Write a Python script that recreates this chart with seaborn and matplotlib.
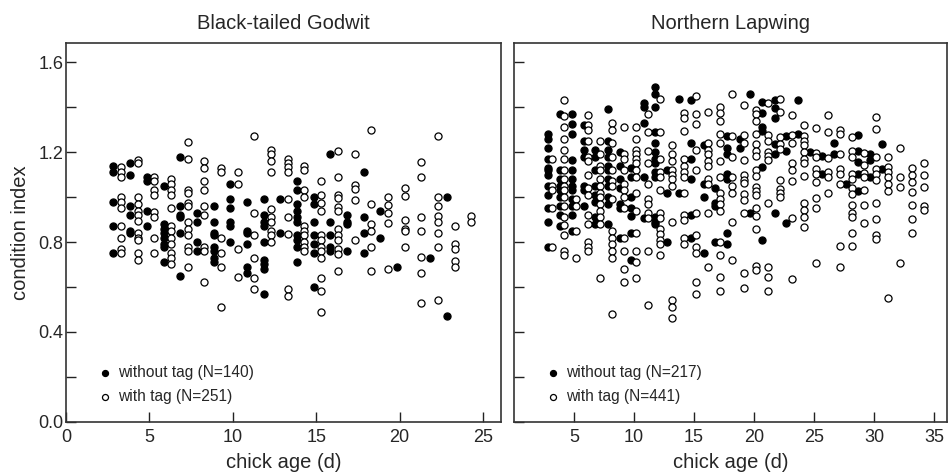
import pandas as pd
import seaborn as sns
import matplotlib.pyplot as plt
import numpy as np

# Black-tailed Godwit, chicks without tag (column position = chick age, values = condition index)
godwit_notag_age = [2.8, 3.85, 4.85, 5.85, 6.85, 7.85, 8.85, 9.85, 10.85, 11.85,
                    12.85, 13.85, 14.85, 15.85, 16.85, 17.85, 18.85, 19.85, 21.85, 22.85]
godwit_notag_ci = [
    [1.14, 1.11, 0.98, 0.87, 0.75],
    [1.15, 1.10, 0.96, 0.92, 0.85, 0.84],
    [1.09, 1.07, 0.94, 0.87],
    [1.05, 0.88, 0.86, 0.84, 0.82, 0.79, 0.78, 0.71],
    [1.18, 0.96, 0.92, 0.91, 0.84, 0.65],
    [0.93, 0.89, 0.80, 0.76],
    [0.96, 0.89, 0.84, 0.83, 0.78, 0.76, 0.73, 0.71],
    [1.06, 0.99, 0.95, 0.89, 0.87, 0.80],
    [0.98, 0.85, 0.84, 0.79, 0.69, 0.66],
    [0.99, 0.92, 0.89, 0.87, 0.80, 0.72, 0.70, 0.68, 0.57],
    [0.99, 0.84],
    [1.07, 1.03, 0.97, 0.94, 0.91, 0.89, 0.83, 0.81, 0.78, 0.71],
    [1.00, 0.97, 0.89, 0.83, 0.79, 0.75, 0.60],
    [1.19, 0.89, 0.83, 0.78, 0.76],
    [0.92, 0.89, 0.88, 0.76],
    [1.11, 0.91, 0.84, 0.75],
    [0.94, 0.82],
    [0.69],
    [0.73],
    [1.00, 0.47],
]

# Black-tailed Godwit, chicks with tag
godwit_tag_age = [3.3, 4.3, 5.3, 6.3, 7.3, 8.3, 9.3, 10.3, 11.3, 12.3, 13.3, 14.3,
                  15.3, 16.3, 17.3, 18.3, 19.3, 20.3, 21.3, 22.3, 23.3, 24.3]
godwit_tag_ci = [
    [1.135, 1.11, 1.09, 1.00, 0.98, 0.95, 0.87, 0.82, 0.77, 0.75],
    [1.165, 1.15, 1.00, 0.97, 0.94, 0.92, 0.895, 0.84, 0.82, 0.81, 0.75, 0.72],
    [1.09, 1.07, 1.03, 1.01, 0.935, 0.91, 0.82, 0.75],
    [1.08, 1.06, 1.03, 1.01, 0.95, 0.87, 0.85, 0.82, 0.79, 0.75, 0.73, 0.70],
    [1.245, 1.17, 1.03, 1.02, 0.975, 0.96, 0.89, 0.86, 0.83, 0.78, 0.76, 0.69],
    [1.16, 1.13, 1.07, 1.03, 0.96, 0.92, 0.78, 0.76, 0.62],
    [1.13, 1.11, 0.82, 0.75, 0.69, 0.51],
    [1.11, 1.06, 0.77, 0.645],
    [1.27, 0.93, 0.83, 0.73, 0.64, 0.59],
    [1.21, 1.19, 1.16, 1.11, 0.945, 0.91, 0.89, 0.85, 0.83, 0.80],
    [1.17, 1.15, 1.135, 1.11, 0.99, 0.91, 0.835, 0.59, 0.56],
    [1.14, 1.12, 1.03, 1.00, 0.87, 0.85, 0.83, 0.80, 0.78, 0.76],
    [1.07, 1.01, 0.975, 0.94, 0.83, 0.81, 0.78, 0.76, 0.73, 0.64, 0.58, 0.49],
    [1.205, 1.09, 1.01, 0.995, 0.955, 0.94, 0.86, 0.83, 0.81, 0.77, 0.745, 0.67],
    [1.19, 1.055, 1.035, 0.985, 0.81],
    [1.30, 0.97, 0.88, 0.85, 0.78, 0.67],
    [1.00, 0.965, 0.93, 0.885, 0.68],
    [1.04, 1.005, 0.90, 0.86, 0.85, 0.78],
    [1.155, 1.09, 0.91, 0.85, 0.735, 0.66, 0.53],
    [1.27, 1.00, 0.96, 0.915, 0.89, 0.84, 0.78, 0.54],
    [0.87, 0.79, 0.77, 0.715, 0.69],
    [0.915, 0.89],
]

# Northern Lapwing, chicks without tag
lapwing_notag_age = [2.8, 3.8, 4.8, 5.8, 6.75, 7.8, 8.8, 9.75, 10.8, 11.75, 12.75,
                     13.75, 14.75, 15.8, 16.75, 17.75, 18.8, 19.7, 20.7, 21.75, 22.7,
                     23.7, 24.7, 25.7, 26.7, 27.7, 28.7, 29.7, 30.7]
lapwing_notag_ci = [
    [1.28, 1.26, 1.22, 1.17, 1.13, 1.12, 1.10, 1.05, 1.01, 0.95, 0.89, 0.78],
    [1.37, 1.12, 1.08, 1.05, 1.03, 1.00, 0.96, 0.92, 0.87],
    [1.37, 1.325, 1.28, 1.165, 1.12, 1.08, 1.05, 1.03, 0.99, 0.96, 0.92, 0.85],
    [1.32, 1.25, 1.21, 1.18, 1.05, 1.03, 0.96],
    [1.21, 1.18, 1.12, 1.05, 1.01, 0.98, 0.91, 0.88],
    [1.39, 1.25, 1.21, 1.18, 1.14, 1.12, 1.08, 1.05, 1.00, 0.97, 0.88],
    [1.20, 1.14, 1.08, 1.04, 0.97, 0.95, 0.82],
    [1.13, 1.09, 1.00, 0.95, 0.915, 0.84, 0.72],
    [1.42, 1.40, 1.33, 1.09, 0.905],
    [1.49, 1.46, 1.40, 1.29, 1.24, 1.20, 1.17, 1.15, 1.11, 1.09, 0.91, 0.89, 0.88],
    [1.12, 1.02, 0.80],
    [1.435, 1.02],
    [1.43, 1.24, 1.17, 1.08, 0.92, 0.82],
    [1.23, 1.06, 1.00, 0.75],
    [1.04, 0.975, 0.96, 0.80],
    [1.27, 1.22, 1.19, 1.105, 1.08, 0.84, 0.79],
    [1.26, 1.22],
    [1.46, 0.93],
    [1.424, 1.375, 1.31, 1.295, 1.135, 0.81],
    [1.43, 1.395, 1.35, 1.236, 1.19, 0.93],
    [1.27, 1.206, 0.886],
    [1.43, 1.28],
    [1.202],
    [1.183, 1.102],
    [1.242, 1.191],
    [1.058],
    [1.276, 1.206, 1.157, 1.102, 1.028],
    [1.191, 1.165, 1.088],
    [1.236, 1.125],
]

# Northern Lapwing, chicks with tag
lapwing_tag_age = [3.2, 4.2, 5.2, 6.2, 7.2, 8.2, 9.2, 10.2, 11.2, 12.2, 13.2, 14.2,
                   15.2, 16.2, 17.2, 18.2, 19.2, 20.2, 21.2, 22.2, 23.2, 24.2, 25.2,
                   26.2, 27.2, 28.15, 29.15, 30.15, 31.15, 32.15, 33.15, 34.15]
lapwing_tag_ci = [
    [1.17, 1.05, 1.03, 0.95, 0.78],
    [1.43, 1.36, 1.31, 1.26, 1.21, 1.17, 1.12, 1.08, 1.05, 1.03, 1.00, 0.96, 0.91, 0.875, 0.83, 0.76, 0.74],
    [0.99, 0.96, 0.85, 0.73],
    [1.365, 1.32, 1.30, 1.25, 1.18, 1.16, 1.10, 1.04, 1.01, 0.92, 0.88, 0.80, 0.78, 0.76],
    [1.25, 1.19, 1.14, 1.12, 1.08, 1.05, 1.02, 1.00, 0.97, 0.94, 0.91, 0.88, 0.64],
    [1.33, 1.30, 1.24, 1.18, 1.12, 1.07, 1.05, 0.99, 0.85, 0.82, 0.79, 0.76, 0.73, 0.48],
    [1.31, 1.19, 1.17, 1.12, 1.06, 1.03, 1.00, 0.95, 0.82, 0.76, 0.68, 0.62],
    [1.31, 1.26, 1.21, 1.19, 1.17, 1.15, 1.12, 1.09, 1.02, 0.94, 0.84, 0.76, 0.71, 0.64],
    [1.37, 1.29, 1.205, 1.15, 1.06, 0.99, 0.97, 0.93, 0.905, 0.76, 0.52],
    [1.435, 1.29, 1.17, 1.11, 1.09, 1.03, 0.93, 0.905, 0.86, 0.835, 0.81, 0.79, 0.74],
    [1.23, 1.19, 1.16, 1.12, 1.10, 1.08, 1.05, 0.89, 0.54, 0.51, 0.46],
    [1.375, 1.35, 1.295, 1.17, 1.14, 1.11, 1.09, 1.02, 0.92, 0.90, 0.82, 0.79],
    [1.45, 1.37, 1.325, 1.21, 1.12, 0.93, 0.83, 0.78, 0.75, 0.62, 0.57],
    [1.38, 1.24, 1.21, 1.19, 1.16, 1.14, 1.08, 1.06, 0.93, 0.69],
    [1.40, 1.375, 1.34, 1.28, 1.24, 1.16, 1.09, 1.02, 0.99, 0.97, 0.94, 0.80, 0.74, 0.645, 0.58],
    [1.46, 1.27, 1.18, 1.09, 1.05, 1.02, 0.89, 0.72],
    [1.41, 1.276, 1.239, 1.165, 1.098, 1.076, 1.064, 1.013, 0.987, 0.927, 0.66, 0.594],
    [1.387, 1.369, 1.338, 1.28, 1.236, 1.206, 1.183, 1.12, 1.094, 1.046, 1.028, 1.009, 0.95, 0.915, 0.856, 0.693, 0.675],
    [1.42, 1.276, 1.251, 1.202, 1.183, 1.165, 0.972, 0.69, 0.645, 0.583],
    [1.435, 1.38, 1.266, 1.236, 1.212, 1.076, 1.034, 1.016, 0.999],
    [1.365, 1.276, 1.242, 1.153, 1.12, 1.073, 0.905, 0.634],
    [1.32, 1.271, 1.251, 1.232, 1.202, 1.168, 1.153, 1.094, 0.972, 0.942, 0.912, 0.868],
    [1.306, 1.197, 1.177, 1.123, 1.102, 1.068, 0.994, 0.95, 0.708],
    [1.365, 1.291, 1.172, 1.113, 1.088, 1.019],
    [1.298, 1.28, 1.191, 1.123, 1.105, 1.058, 0.782, 0.69],
    [1.266, 1.206, 1.177, 1.105, 1.079, 1.039, 1.013, 0.964, 0.93, 0.912, 0.841, 0.782],
    [1.197, 1.142, 1.108, 1.088, 1.031, 0.964, 0.886],
    [1.355, 1.301, 1.177, 1.123, 1.105, 1.076, 0.972, 0.901, 0.831, 0.812],
    [1.177, 1.132, 1.113, 1.091, 1.058, 1.028, 0.549],
    [1.22, 1.088, 1.043, 0.708],
    [1.131, 1.098, 1.068, 1.024, 0.964, 0.901, 0.838],
    [1.15, 1.098, 1.043, 0.96, 0.942],
]

panel_titles = ['Black-tailed Godwit', 'Northern Lapwing']
n_labels = [(140, 251), (217, 441)]


def to_frame(ages, values):
    rows = [(a, v) for a, col in zip(ages, values) for v in col]
    return pd.DataFrame(rows, columns=['age', 'ci'])


sns.set_style("ticks")
plt.rcParams['font.family'] = ['Liberation Sans', 'DejaVu Sans']

fig = plt.figure(figsize=(9.49, 4.74), dpi=100)
ax1 = fig.add_axes([0.0695, 0.1103, 0.4584, 0.799])
ax2 = fig.add_axes([0.5416, 0.1103, 0.4563, 0.799])

panels = [
    (ax1, to_frame(godwit_notag_age, godwit_notag_ci), to_frame(godwit_tag_age, godwit_tag_ci)),
    (ax2, to_frame(lapwing_notag_age, lapwing_notag_ci), to_frame(lapwing_tag_age, lapwing_tag_ci)),
]

for i, (ax, df_no, df_tag) in enumerate(panels):
    sns.scatterplot(data=df_no, x='age', y='ci', ax=ax, s=26, color='black',
                    edgecolor='black', linewidth=0.9,
                    label=f'without tag (N={n_labels[i][0]})', zorder=3)
    sns.scatterplot(data=df_tag, x='age', y='ci', ax=ax, s=26, color='white',
                    edgecolor='black', linewidth=0.9,
                    label=f'with tag (N={n_labels[i][1]})', zorder=4)
    ax.set_title(panel_titles[i], fontsize=14.5, pad=10)
    ax.set_xlabel('chick age (d)', fontsize=14.5, labelpad=5)
    ax.set_ylim(0, 1.686)
    ax.set_yticks([0.0, 0.4, 0.8, 1.2, 1.6])
    ax.set_yticks([0.2, 0.6, 1.0, 1.4], minor=True)
    ax.yaxis.set_major_formatter(plt.FormatStrFormatter('%.1f'))
    ax.tick_params(axis='both', which='both', direction='in', length=7, width=1,
                   color='#222222', labelsize=13)
    ax.tick_params(axis='y', pad=2)
    ax.tick_params(axis='x', pad=5)
    for sp in ax.spines.values():
        sp.set_visible(True)
        sp.set_linewidth(1.2)
        sp.set_color('#333333')
    ax.legend(loc='lower left', bbox_to_anchor=(0.051, 0.022), frameon=False,
              fontsize=11.2, handlelength=1.0, handletextpad=0.3,
              labelspacing=0.55, markerscale=0.85, borderaxespad=0.2)

ax1.set_xlim(0, 26.08)
ax1.set_xticks([0, 5, 10, 15, 20, 25])
ax1.set_ylabel('condition index', fontsize=14.5, labelpad=6)

ax2.set_xlim(0, 36.08)
ax2.set_xticks([5, 10, 15, 20, 25, 30, 35])
ax2.set_ylabel('')
ax2.tick_params(axis='y', labelleft=False)

fig.savefig('out.png', dpi=100)
